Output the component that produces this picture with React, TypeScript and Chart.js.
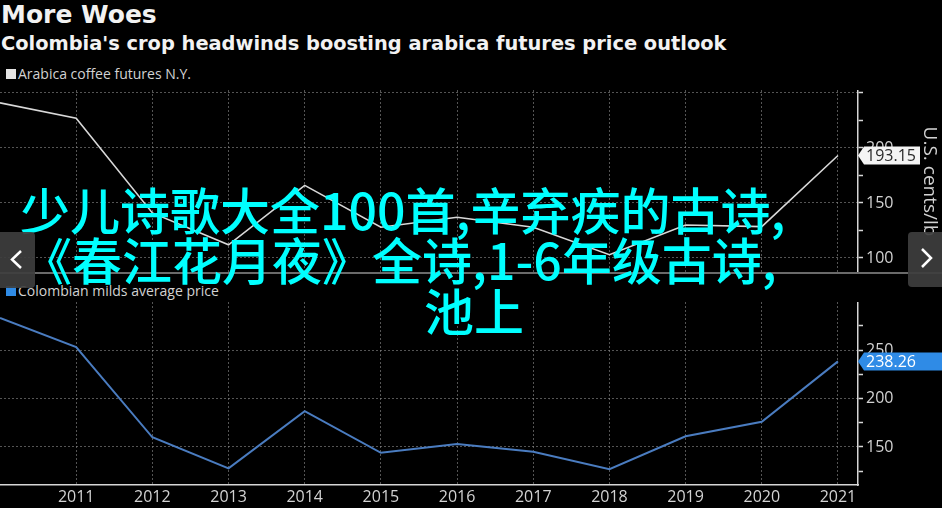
import React, { useEffect, useRef } from 'react';
import { Chart, registerables } from 'chart.js';

Chart.register(...registerables);

// ---------- data ----------
const years = [2010, 2011, 2012, 2013, 2014, 2015, 2016, 2017, 2018, 2019, 2020, 2021];
const arabicaFutures = [241, 227, 141, 112, 166, 128, 137, 128, 103, 130, 128.5, 193.15];
const colombianMilds = [283, 253, 160, 128, 187, 144, 153, 145, 127, 161, 176, 238.26];
const yearLabels = [2011, 2012, 2013, 2014, 2015, 2016, 2017, 2018, 2019, 2020, 2021];
const arabicaTickLabels = [100, 150, 200];
const colombianTickLabels = [150, 200, 250];

const TITLE = 'More Woes';
const SUBTITLE = "Colombia's crop headwinds boosting arabica futures price outlook";
const ARABICA_LABEL = 'Arabica coffee futures N.Y.';
const COLOMBIAN_LABEL = 'Colombian milds average price';
const Y_TITLE = 'U.S. cents/lb';
const OVERLAY_LINES = ['少儿诗歌大全100首,辛弃疾的古诗,', '《春江花月夜》全诗,1-6年级古诗,', '池上'];

// ---------- styles ----------
const FONT = "'Open Sans', 'Liberation Sans', sans-serif";
const GRID = 'rgba(140,140,140,0.6)';
const AXIS = '#d6d6d6';
const TEXT = '#d2d2d2';
const WHITE_LINE = '#d8d8d8';
const BLUE_LINE = '#4a7cc0';
const BLUE_TAG = '#2f8be6';

const lastValueTag = {
  id: 'lastValueTag',
  afterDraw(chart: any, _args: any, opts: any) {
    if (!opts || !opts.bg) return;
    const ds = chart.data.datasets[0];
    const last = ds.data[ds.data.length - 1];
    const y = chart.scales.y.getPixelForValue(last.y);
    const x0 = chart.chartArea.right;
    const ctx = chart.ctx;
    ctx.save();
    ctx.beginPath();
    ctx.moveTo(x0, y);
    ctx.lineTo(x0 + 6, y - 9);
    ctx.lineTo(x0 + opts.width, y - 9);
    ctx.lineTo(x0 + opts.width, y + 9);
    ctx.lineTo(x0 + 6, y + 9);
    ctx.closePath();
    ctx.fillStyle = opts.bg;
    ctx.fill();
    ctx.fillStyle = opts.fg;
    ctx.font = `16px ${FONT}`;
    ctx.textAlign = 'left';
    ctx.textBaseline = 'middle';
    ctx.fillText(Number(last.y).toFixed(2), x0 + 8, y + 1);
    ctx.restore();
  },
};

type PanelProps = {
  values: number[];
  color: string;
  lineWidth: number;
  yMin: number;
  yMax: number;
  labeled: number[];
  showX: boolean;
  yTitle?: string;
  tag: { bg: string; fg: string; width: number };
  top: number;
  height: number;
};

function Panel(p: PanelProps) {
  const ref = useRef<HTMLCanvasElement>(null);
  useEffect(() => {
    const chart = new Chart(ref.current as HTMLCanvasElement, {
      type: 'line',
      data: {
        datasets: [
          {
            data: years.map((x, i) => ({ x, y: p.values[i] })),
            borderColor: p.color,
            borderWidth: p.lineWidth,
            pointRadius: 0,
            tension: 0,
            fill: false,
          },
        ],
      },
      options: {
        responsive: false,
        animation: false,
        events: [],
        layout: { padding: 0 },
        plugins: {
          legend: { display: false },
          tooltip: { enabled: false },
          lastValueTag: p.tag,
        } as any,
        scales: {
          x: {
            type: 'linear',
            min: 2010,
            max: 2021.263,
            afterFit: (s: any) => {
              s.height = p.showX ? 23 : 0;
              s.paddingLeft = 0;
              s.paddingRight = 0;
            },
            ticks: {
              display: p.showX,
              stepSize: 1,
              includeBounds: false,
              autoSkip: false,
              maxRotation: 0,
              padding: 3,
              color: TEXT,
              font: { family: FONT, size: 16 },
              callback: (v: any) => (yearLabels.includes(v) ? String(v) : ''),
            },
            grid: {
              color: (c: any) => (c.tick && yearLabels.includes(c.tick.value) ? GRID : 'transparent'),
              drawTicks: false,
              lineWidth: 1,
            },
            border: { display: p.showX, color: AXIS, width: 1.5, dash: [2, 2] },
          },
          y: {
            position: 'right',
            min: p.yMin,
            max: p.yMax,
            afterFit: (s: any) => {
              s.width = 84;
              s.paddingTop = 0;
              s.paddingBottom = 0;
            },
            ticks: {
              stepSize: 25,
              includeBounds: false,
              padding: 3,
              color: TEXT,
              font: { family: FONT, size: 16 },
              callback: (v: any) => (p.labeled.includes(v) ? String(v) : ''),
            },
            grid: {
              color: (c: any) => (c.tick && c.tick.value % 50 === 0 ? GRID : 'transparent'),
              tickColor: AXIS,
              tickLength: 5,
              tickWidth: 1.5,
            },
            border: { color: AXIS, width: 1.5, dash: [2, 2] },
            title: {
              display: !!p.yTitle,
              text: p.yTitle || '',
              color: TEXT,
              font: { family: FONT, size: 19 },
              padding: { top: 1, bottom: 0 },
            },
          },
        } as any,
      },
      plugins: [lastValueTag as any],
    });
    return () => chart.destroy();
  }, []);
  return (
    <canvas
      ref={ref}
      width={942}
      height={p.height}
      style={{ position: 'absolute', left: 0, top: p.top, width: 942, height: p.height }}
    />
  );
}

function LegendItem({ top, color, text }: { top: number; color: string; text: string }) {
  return (
    <div style={{ position: 'absolute', left: 6, top, height: 16, display: 'flex', alignItems: 'center' }}>
      <div style={{ width: 10, height: 10, background: color, marginRight: 2 }} />
      <span style={{ fontFamily: FONT, fontSize: 14, color: TEXT, lineHeight: '16px', whiteSpace: 'nowrap' }}>{text}</span>
    </div>
  );
}

export default function App() {
  return (
    <div
      style={{
        position: 'fixed',
        left: 0,
        top: 0,
        width: 942,
        height: 508,
        background: '#000',
        overflow: 'hidden',
      }}
    >
      <div
        style={{
          position: 'absolute',
          left: 1,
          top: 0,
          fontFamily: "'DejaVu Sans', sans-serif",
          fontWeight: 'bold',
          fontSize: 25,
          lineHeight: '30px',
          color: '#f2f2f2',
          whiteSpace: 'nowrap',
        }}
      >
        {TITLE}
      </div>
      <div
        style={{
          position: 'absolute',
          left: 1,
          top: 32,
          fontFamily: "'DejaVu Sans', sans-serif",
          fontWeight: 'bold',
          fontSize: 19.4,
          lineHeight: '23px',
          color: '#f2f2f2',
          whiteSpace: 'nowrap',
        }}
      >
        {SUBTITLE}
      </div>

      <LegendItem top={66} color="#e4e4e4" text={ARABICA_LABEL} />
      <Panel
        values={arabicaFutures}
        color={WHITE_LINE}
        lineWidth={1.6}
        yMin={86.36}
        yMax={252.7}
        labeled={arabicaTickLabels}
        showX={false}
        yTitle={Y_TITLE}
        tag={{ bg: '#f4f4f4', fg: '#2a2a2a', width: 62 }}
        top={90}
        height={183}
      />
      <div style={{ position: 'absolute', left: 0, top: 272, width: 942, height: 2, background: '#6a6a6a' }} />

      <LegendItem top={283} color={BLUE_TAG} text={COLOMBIAN_LABEL} />
      <Panel
        values={colombianMilds}
        color={BLUE_LINE}
        lineWidth={2}
        yMin={110.8}
        yMax={299.5}
        labeled={colombianTickLabels}
        showX={true}
        tag={{ bg: BLUE_TAG, fg: '#ffffff', width: 90 }}
        top={302}
        height={206}
      />

      {OVERLAY_LINES.map((line, i) => (
        <div
          key={i}
          style={{
            position: 'absolute',
            left: [20, 22, 424][i],
            top: [183, 233, 284][i],
            fontFamily: "'Noto Sans CJK SC', sans-serif",
            fontWeight: 500,
            fontSize: 50,
            lineHeight: '50px',
            color: '#00ffff',
            whiteSpace: 'nowrap',
          }}
        >
          {line}
        </div>
      ))}

      <div
        style={{
          position: 'absolute',
          left: 0,
          top: 232,
          width: 35,
          height: 56,
          background: 'rgba(62,62,62,0.92)',
          borderRadius: '0 4px 4px 0',
        }}
      >
        <svg width={35} height={56} style={{ display: 'block' }}>
          <polyline points="21,19 12,27.5 21,36" fill="none" stroke="#ffffff" strokeWidth={2.5} />
        </svg>
      </div>
      <div
        style={{
          position: 'absolute',
          left: 908,
          top: 232,
          width: 34,
          height: 55,
          background: 'rgba(62,62,62,0.92)',
          borderRadius: '4px 0 0 4px',
        }}
      >
        <svg width={34} height={55} style={{ display: 'block' }}>
          <polyline points="14,17 23,26 14,35" fill="none" stroke="#ffffff" strokeWidth={2.5} />
        </svg>
      </div>
    </div>
  );
}
